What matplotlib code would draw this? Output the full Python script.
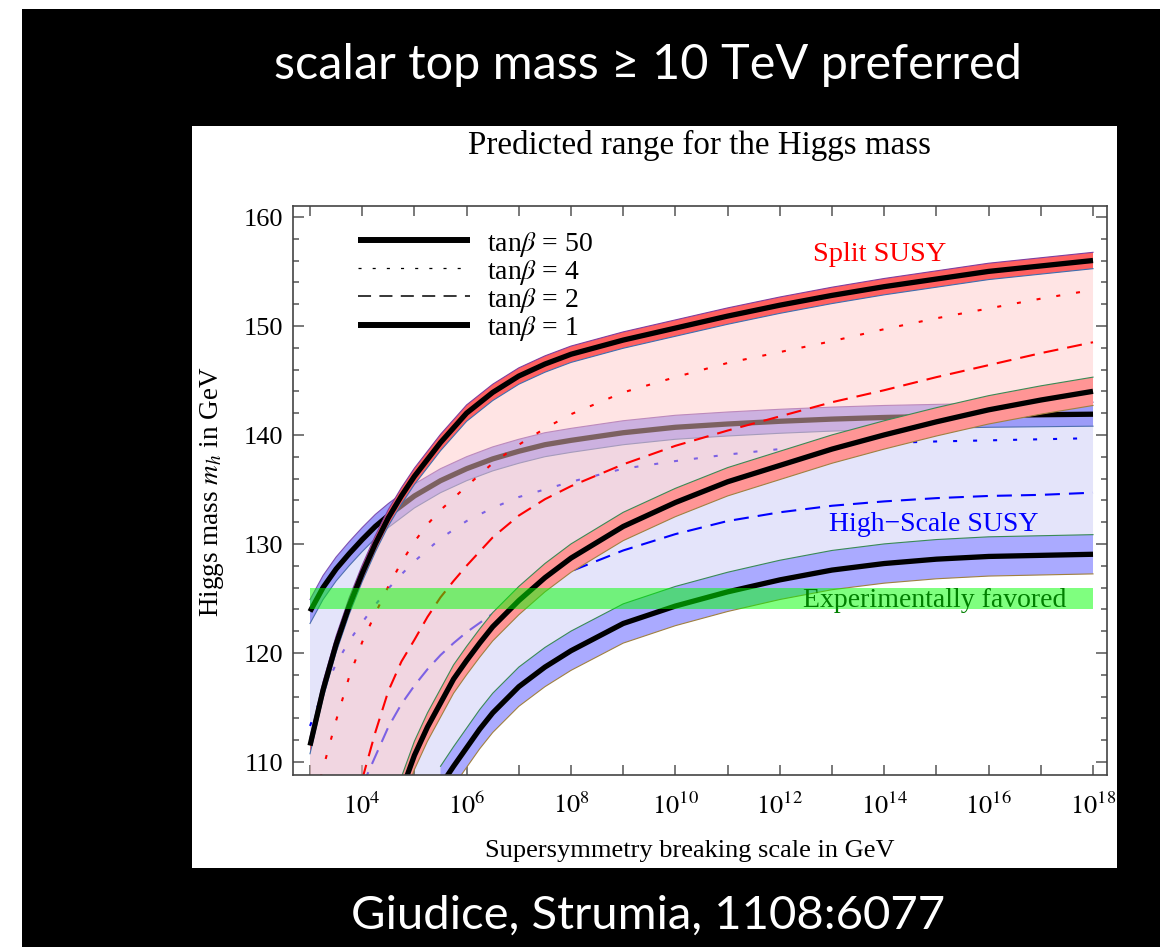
import numpy as np
import matplotlib
matplotlib.use("Agg")
import matplotlib.pyplot as plt
from matplotlib.lines import Line2D
from matplotlib.patches import Rectangle
from matplotlib.ticker import FixedLocator, FixedFormatter, NullLocator

plt.rcParams['font.family'] = ['Liberation Serif', 'DejaVu Serif']
plt.rcParams['mathtext.fontset'] = 'stix'
plt.rcParams['lines.scale_dashes'] = False

# ---------------- texts ----------------
slide_title = "scalar top mass \u2265 10 TeV preferred"
slide_credit = "Giudice, Strumia, 1108:6077"
chart_title = "Predicted range for the Higgs mass"
x_label = "Supersymmetry breaking scale in GeV"
y_label = r"Higgs mass $m_h$ in GeV"
legend_labels = [r"tan$\beta$ = 50", r"tan$\beta$ = 4", r"tan$\beta$ = 2", r"tan$\beta$ = 1"]
label_split = "Split SUSY"
label_high = "High\u2212Scale SUSY"
label_exp = "Experimentally favored"

# ---------------- axes ticks ----------------
x_tick_exps = list(range(3, 19))
x_label_exps = [4, 6, 8, 10, 12, 14, 16, 18]
y_major = [110, 120, 130, 140, 150, 160]
y_minor = list(range(110, 161, 2))

# ---------------- data (log10 of scale in GeV, Higgs mass in GeV) ----------------
# Split SUSY
split_tb50_logE = [3, 3.25, 3.5, 3.75, 4, 4.25, 4.5, 4.75, 5, 5.5, 6, 6.5, 7, 7.5, 8, 9, 10, 11, 12, 13, 14, 15, 16, 17, 18]
split_tb50_mh = [111.5, 116.6, 120.8, 124.3, 127.3, 130.0, 132.4, 134.4, 136.2, 139.3, 142.0, 143.9, 145.4,
                 146.5, 147.4, 148.7, 149.8, 150.9, 151.9, 152.8, 153.6, 154.3, 155.0, 155.5, 156.0]
split_tb4_logE = [3.2, 3.25, 3.5, 3.75, 4, 4.25, 4.5, 4.75, 5, 5.25, 5.5, 5.75, 6, 6.5, 7, 7.5, 8, 9, 10,
                  11, 12, 13, 14, 15, 16, 17, 18]
split_tb4_mh = [108.5, 109.4, 113.8, 117.8, 121.0, 123.6, 126.1, 128.3, 130.2, 131.8, 133.1, 134.2, 135.3,
                137.4, 139.1, 140.6, 141.9, 143.9, 145.3, 146.6, 147.6, 148.6, 149.7, 150.7, 151.6, 152.5, 153.3]
split_tb2_logE = [4, 4.25, 4.5, 4.75, 5, 5.25, 5.5, 5.75, 6, 6.5, 7, 7.5, 8, 9, 10, 11, 12, 13, 14, 15, 16, 17, 18]
split_tb2_mh = [108.4, 112.7, 116.5, 119.2, 121.2, 123.3, 125.1, 126.6, 128.0, 130.6, 132.6, 134.1, 135.3,
                137.3, 139.0, 140.4, 141.7, 143.0, 144.1, 145.3, 146.4, 147.5, 148.5]
split_tb1_logE = [4.75, 5, 5.25, 5.5, 5.75, 6, 6.25, 6.5, 7, 7.5, 8, 9, 10, 11, 12, 13, 14, 15, 16, 17, 18]
split_tb1_mh = [107.3, 110.6, 113.2, 115.4, 117.6, 119.3, 120.9, 122.4, 124.8, 126.9, 128.7, 131.6, 133.8,
                135.7, 137.2, 138.7, 140.0, 141.2, 142.3, 143.2, 144.0]

# High-Scale SUSY
high_tb50_logE = [3, 3.25, 3.5, 3.75, 4, 4.25, 4.5, 4.75, 5, 5.5, 6, 6.5, 7, 7.5, 8, 9, 10, 11, 12, 13, 14, 15, 16, 17, 18]
high_tb50_mh = [123.8, 126.0, 127.7, 129.1, 130.4, 131.6, 132.6, 133.5, 134.4, 135.8, 136.9, 137.8, 138.5,
                139.1, 139.5, 140.2, 140.7, 141.0, 141.25, 141.45, 141.6, 141.7, 141.8, 141.85, 141.9]
high_tb4_logE = [3, 3.25, 3.5, 3.75, 4, 4.25, 4.5, 4.75, 5, 5.5, 6, 6.5, 7, 7.5, 8, 9, 10, 11, 12, 13, 14, 15, 16, 17, 18]
high_tb4_mh = [113.3, 116.4, 119.0, 121.1, 122.8, 124.4, 125.9, 127.2, 128.4, 130.5, 132.1, 133.3, 134.3,
               135.0, 135.7, 136.9, 137.6, 138.2, 138.7, 139.0, 139.25, 139.4, 139.5, 139.6, 139.7]
high_tb2_logE = [4, 4.25, 4.5, 4.75, 5, 5.25, 5.5, 5.75, 6, 6.5, 7, 7.5, 8, 9, 10, 11, 12, 13, 14, 15, 16, 17, 18]
high_tb2_mh = [107.8, 110.5, 113.2, 115.3, 117.0, 118.5, 119.8, 120.9, 121.9, 123.6, 125.0, 126.3, 127.5,
               129.4, 130.9, 132.1, 132.9, 133.5, 133.9, 134.2, 134.4, 134.5, 134.7]
high_tb1_logE = [5.5, 5.75, 6, 6.25, 6.5, 7, 7.5, 8, 9, 10, 11, 12, 13, 14, 15, 16, 17, 18]
high_tb1_mh = [107.8, 109.6, 111.3, 113.0, 114.5, 116.9, 118.7, 120.2, 122.7, 124.3, 125.6, 126.7, 127.6,
               128.2, 128.6, 128.85, 128.95, 129.05]

# uncertainty half-widths of the bands (GeV)
split_tb50_err = 0.75
split_tb1_err = 1.3
high_tb50_err = 1.1
high_tb1_err = 1.8

# experimentally favoured range
exp_logE = [3, 18]
exp_low = 124.0
exp_high = 126.0

# ---------------- figure ----------------
W, H = 1176, 953
fig = plt.figure(figsize=(W / 100, H / 100), dpi=100, facecolor='white')
fig.patches.append(Rectangle((22 / W, 1 - 948 / H), (1160 - 22) / W, (948 - 10) / H,
                             transform=fig.transFigure, facecolor='black', edgecolor='none', zorder=-10))
fig.patches.append(Rectangle((192 / W, 1 - 869 / H), (1117 - 192) / W, (869 - 127) / H,
                             transform=fig.transFigure, facecolor='white', edgecolor='none', zorder=-9))

ax = fig.add_axes([293 / W, (H - 776) / H, (1107 - 293) / W, (776 - 207) / H])
ax.set_facecolor('white')


def E(logs):
    return 10.0 ** np.asarray(logs, dtype=float)


def region(upper_l, upper_m, lower_l, lower_m, **kw):
    px = list(E(upper_l)) + list(E(lower_l)[::-1]) + [E(upper_l)[0]]
    py = list(upper_m) + list(lower_m[::-1]) + [lower_m[0]]
    ax.fill(px, py, **kw)


def band(logs, mh, err, fc, top_c, bot_c, z):
    x = E(logs)
    m = np.asarray(mh)
    ax.fill_between(x, m - err, m + err, facecolor=fc, edgecolor='none', zorder=z)
    ax.plot(x, m + err, color=top_c, lw=0.8, zorder=z + 0.1)
    ax.plot(x, m - err, color=bot_c, lw=0.8, zorder=z + 0.1)
    ax.plot(x, m, color='black', lw=3.8, solid_capstyle='butt', solid_joinstyle='round', zorder=z + 0.2)


dotted = (0, (2.9, 11.5))
dashed = (0, (10.8, 6.5))

# High-scale SUSY region and curves
region(high_tb50_logE, high_tb50_mh, high_tb1_logE, high_tb1_mh, facecolor='#E4E4FA', edgecolor='none', zorder=1)
band(high_tb50_logE, high_tb50_mh, high_tb50_err, '#9C9CF8', '#7F4FB0', '#5070B0', 2)
band(high_tb1_logE, high_tb1_mh, high_tb1_err, '#AAAAFF', '#3A8A55', '#A08040', 2)
ax.plot(E(high_tb4_logE), high_tb4_mh, color='#0000FF', lw=1.5, linestyle=dotted, zorder=2.5)
ax.plot(E(high_tb2_logE), high_tb2_mh, color='#0000FF', lw=1.5, linestyle=dashed, zorder=2.5)

# Split SUSY region (translucent) and curves
region(split_tb50_logE, split_tb50_mh, split_tb1_logE, split_tb1_mh, facecolor='#FFC8C8', alpha=0.49,
       edgecolor='none', zorder=3)
band(split_tb50_logE, split_tb50_mh, split_tb50_err, '#FF6060', '#7F3FA0', '#3F6FB0', 4)
band(split_tb1_logE, split_tb1_mh, split_tb1_err, '#FF9595', '#3A8A55', '#A08040', 4)
ax.plot(E(split_tb4_logE), split_tb4_mh, color='#FF0000', lw=1.5, linestyle=dotted, zorder=4.5)
ax.plot(E(split_tb2_logE), split_tb2_mh, color='#FF0000', lw=1.5, linestyle=dashed, zorder=4.5)

# Experimental band
ax.fill_between(E(exp_logE), exp_low, exp_high, facecolor='#00FF00', alpha=0.5, edgecolor='none', zorder=5)

# labels in plot
ax.text(10 ** 13.92, 156.6, label_split, color='#FF0000', fontsize=20.5, ha='center', va='center', zorder=6)
ax.text(10 ** 14.95, 131.9, label_high, color='#0000FF', fontsize=20, ha='center', va='center', zorder=6)
ax.text(10 ** 14.97, 124.9, label_exp, color='#008000', fontsize=20, ha='center', va='center', zorder=6)

# axes
ax.set_xscale('log')
ax.set_xlim(10 ** 2.674, 10 ** 18.268)
ax.set_ylim(108.8, 161.0)
ax.xaxis.set_major_locator(FixedLocator(list(E(x_tick_exps))))
ax.xaxis.set_major_formatter(FixedFormatter([("$10^{%d}$" % e) if e in x_label_exps else "" for e in x_tick_exps]))
ax.xaxis.set_minor_locator(NullLocator())
ax.yaxis.set_major_locator(FixedLocator(y_major))
ax.yaxis.set_minor_locator(FixedLocator([v for v in y_minor if v not in y_major]))
frame_c = '#444444'
for s in ax.spines.values():
    s.set_color(frame_c)
    s.set_linewidth(1.2)
    s.set_zorder(7)
ax.tick_params(axis='x', which='major', direction='in', length=7, width=1.1, color='#555555',
               top=True, bottom=True, labelsize=19, pad=12)
ax.tick_params(axis='y', which='major', direction='in', length=8, width=1.1, color='#555555',
               left=True, right=True, labelsize=19, pad=7)
ax.tick_params(axis='y', which='minor', direction='in', length=4.5, width=1.1, color='#555555',
               left=True, right=True)

# legend
handles = [
    Line2D([], [], color='black', lw=4.3, solid_capstyle='butt'),
    Line2D([], [], color='black', lw=0.9, linestyle=(0, (2.2, 8.0))),
    Line2D([], [], color='black', lw=1.1, linestyle=(0, (9.4, 6.0))),
    Line2D([], [], color='black', lw=4.3, solid_capstyle='butt'),
]
ax.legend(handles, legend_labels, loc='upper left', bbox_to_anchor=(0.0799, 0.96), frameon=False,
          fontsize=20, handlelength=4.03, handletextpad=0.61, borderpad=0, borderaxespad=0,
          labelspacing=-0.03)

# titles / axis labels
fig.text(700 / W, 1 - 154 / H, chart_title, fontsize=23.8, ha='center', va='baseline')
fig.text(690 / W, 1 - 857 / H, x_label, fontsize=19, ha='center', va='baseline')
fig.text(212 / W, 1 - 492 / H, y_label, fontsize=19.5, ha='center', va='center', rotation=90)

# slide texts
fig.text(648 / W, 1 - 79 / H, slide_title, fontsize=35, color='white', ha='center', va='baseline',
         family=['Lato', 'DejaVu Sans'])
fig.text(648 / W, 1 - 929 / H, slide_credit, fontsize=34, color='white', ha='center', va='baseline',
         family=['Lato', 'DejaVu Sans'])

fig.savefig('out.png', dpi=100, facecolor='white')
